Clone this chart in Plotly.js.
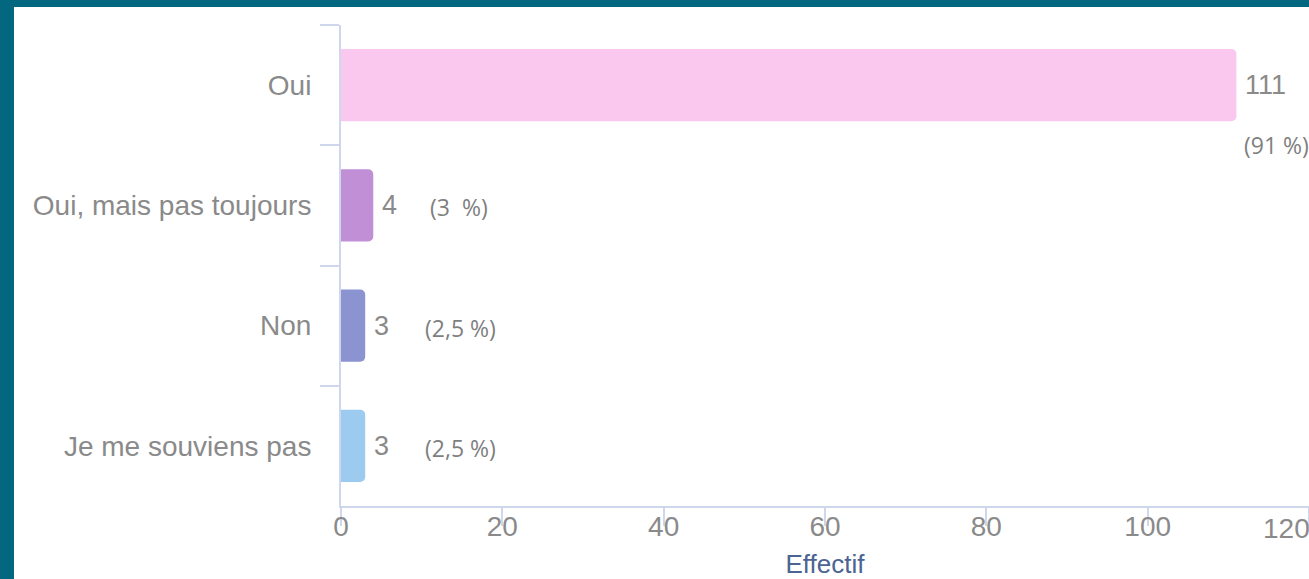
<!DOCTYPE html>
<html>
<head>
<meta charset="utf-8">
<script src="https://cdn.plot.ly/plotly-3.0.1.min.js"></script>
<style>
  html, body { margin: 0; padding: 0; width: 1309px; height: 579px; overflow: hidden; background: #03687f; }
  #wrap { position: absolute; left: 14px; top: 7px; width: 1295px; height: 572px; background: #ffffff; }
  #chart { width: 1295px; height: 572px; }
</style>
</head>
<body>
<div id="wrap"><div id="chart"></div></div>
<script>
// ---- data ----
const categories = ["Oui", "Oui, mais pas toujours", "Non", "Je me souviens pas"];
const counts = [111, 4, 3, 3];
const percentLabels = ["(91 %)", "(3  %)", "(2,5 %)", "(2,5 %)"];
const barColors = ["#fac8ef", "#c18fd6", "#8b93d1", "#9ccbef"];
const xTickValues = [0, 20, 40, 60, 80, 100, 120];
const xTickLabels = ["0", "20", "40", "60", "80", "100", "120"];

// ---- label placement (styles) ----
const pctXShift = [6, 55, 58, 58];
const pctYShift = [-60, -2, -2, -2];

const axisColor = "#cfd7ec";
const labelGray = "#8a8a8a";
const arial = "Liberation Sans, Arial, sans-serif";

const trace = {
  type: "bar",
  orientation: "h",
  x: counts,
  y: categories,
  marker: { color: barColors, cornerradius: 5, line: { width: 0 } },
  hoverinfo: "none"
};

const annotations = [];
categories.forEach((c, i) => {
  annotations.push({
    x: counts[i], y: c, xref: "x", yref: "y",
    text: String(counts[i]), showarrow: false,
    xanchor: "left", yanchor: "middle", xshift: 7, yshift: 0,
    font: { family: arial, size: 27, color: labelGray }
  });
  annotations.push({
    x: counts[i], y: c, xref: "x", yref: "y",
    text: percentLabels[i], showarrow: false,
    xanchor: "left", yanchor: "middle", xshift: pctXShift[i], yshift: pctYShift[i],
    font: { family: "Open Sans, sans-serif", size: 23, color: "#7f7f7f" }
  });
});
// last x tick label is justified inside the chart edge (as in the reference)
const lastIdx = xTickValues.length - 1;
annotations.push({
  x: xTickValues[lastIdx], y: 0, xref: "x", yref: "paper",
  text: xTickLabels[lastIdx], showarrow: false,
  xanchor: "right", yanchor: "top", xshift: 3, yshift: -5,
  font: { family: arial, size: 28, color: labelGray }
});

const layout = {
  width: 1295, height: 572,
  margin: { l: 327, r: 0, t: 18, b: 73, pad: 0 },
  paper_bgcolor: "#ffffff", plot_bgcolor: "#ffffff",
  bargap: 0.4,
  showlegend: false,
  xaxis: {
    range: [0, 120],
    tickmode: "array",
    tickvals: xTickValues,
    ticktext: xTickLabels.map((t, i) => (i === lastIdx ? "" : t)),
    showgrid: false, zeroline: false,
    showline: true, linecolor: axisColor, linewidth: 2,
    ticks: "outside", ticklen: 18, tickwidth: 2, tickcolor: axisColor,
    ticklabelstandoff: -24,
    ticklabeloverflow: "allow",
    tickfont: { family: arial, size: 28, color: labelGray },
    title: { text: "Effectif", standoff: 22, font: { family: arial, size: 26, color: "#4b6491" } },
    automargin: false,
    fixedrange: true
  },
  yaxis: {
    type: "category",
    range: [3.5, -0.5],
    autorange: false,
    showgrid: false, zeroline: false,
    showline: true, linecolor: axisColor, linewidth: 2,
    ticks: "outside", tickson: "boundaries", ticklen: 19, tickwidth: 2, tickcolor: axisColor,
    ticklabelstandoff: 22,
    tickfont: { family: arial, size: 28, color: labelGray },
    automargin: false,
    fixedrange: true
  },
  annotations: annotations
};

Plotly.newPlot("chart", [trace], layout, { displayModeBar: false, staticPlot: true });
</script>
</body>
</html>
